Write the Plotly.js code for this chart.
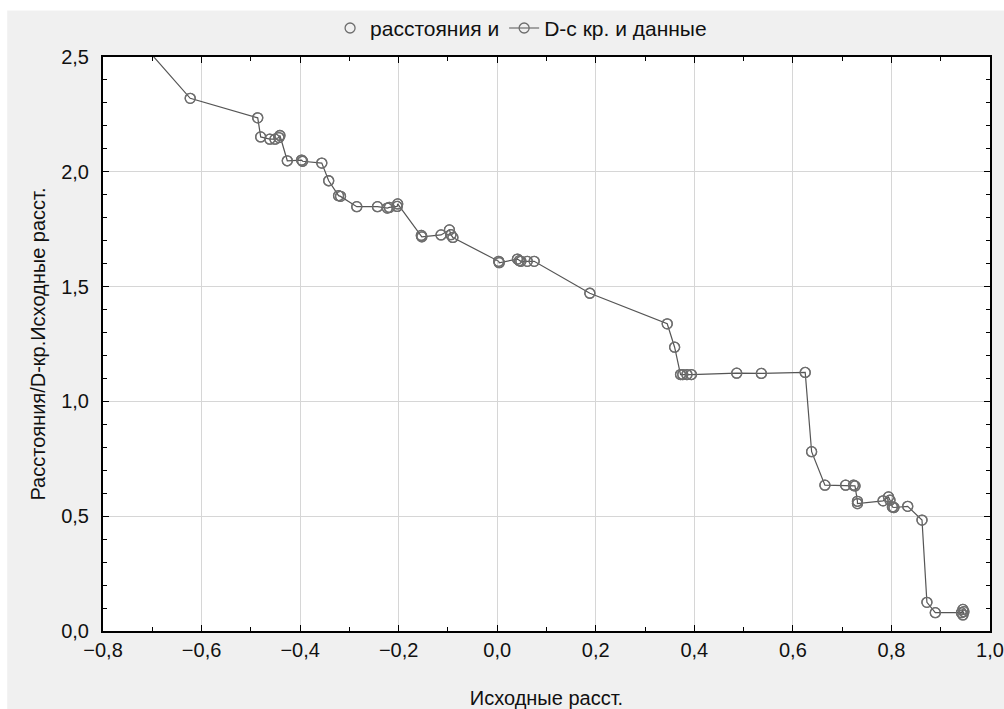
<!DOCTYPE html>
<html>
<head>
<meta charset="utf-8">
<script src="https://cdn.plot.ly/plotly-3.0.1.min.js"></script>
<style>
html,body{margin:0;padding:0;background:#f0f0f0;}
#chart{width:1004px;height:709px;}
</style>
</head>
<body>
<div id="chart"></div>
<script>
// Data
var xVals = [-0.75, -0.623, -0.486, -0.480, -0.4615, -0.451, -0.443, -0.441, -0.426, -0.397, -0.395, -0.356, -0.342, -0.322, -0.318,
  -0.285, -0.243, -0.223, -0.219, -0.203, -0.202, -0.154, -0.153, -0.114, -0.097, -0.094, -0.090,
  0.003, 0.004, 0.041, 0.045, 0.048, 0.061, 0.075, 0.188, 0.345, 0.360, 0.372, 0.3765, 0.385, 0.394,
  0.486, 0.536, 0.625, 0.638, 0.665, 0.707, 0.723, 0.726, 0.731, 0.731, 0.783, 0.794, 0.797, 0.802, 0.805,
  0.833, 0.862, 0.872, 0.889, 0.942, 0.945, 0.945, 0.947];
var yVals = [2.63, 2.320, 2.235, 2.152, 2.142, 2.142, 2.149, 2.158, 2.048, 2.051, 2.046, 2.038, 1.961, 1.896, 1.893,
  1.848, 1.848, 1.842, 1.845, 1.849, 1.860, 1.723, 1.717, 1.725, 1.747, 1.726, 1.714,
  1.610, 1.604, 1.620, 1.613, 1.610, 1.610, 1.610, 1.471, 1.338, 1.236, 1.117, 1.117, 1.117, 1.117,
  1.123, 1.122, 1.126, 0.781, 0.635, 0.635, 0.635, 0.632, 0.565, 0.555, 0.567, 0.584, 0.570, 0.540, 0.538,
  0.543, 0.483, 0.125, 0.080, 0.080, 0.094, 0.070, 0.084];
var seriesNames = ["расстояния и", "D-с кр. и данные"];
var xTitle = "Исходные расст.";
var yTitle = "Расстояния/D-кр.Исходные расст.";

var fontFam = "Liberation Sans, Arial, sans-serif";
var txtColor = "#111";

var traces = [
  {
    x: xVals, y: yVals, name: seriesNames[0], type: "scatter", mode: "markers",
    marker: {symbol: "circle-open", size: 10, color: "#6e6e6e", line: {width: 1.3, color: "#6e6e6e"}},
    cliponaxis: true
  },
  {
    x: xVals, y: yVals, name: seriesNames[1], type: "scatter", mode: "lines+markers",
    line: {color: "#555555", width: 1.2},
    marker: {symbol: "circle-open", size: 10, color: "#6e6e6e", line: {width: 1.3, color: "#6e6e6e"}},
    cliponaxis: true
  }
];

var axisCommon = {
  showline: true, linecolor: "#000", linewidth: 2, mirror: "ticks",
  ticks: "inside", ticklen: 6, tickcolor: "#000", tickwidth: 1,
  showgrid: true, gridcolor: "#d6d6d6", gridwidth: 1,
  zeroline: false, tickformat: ".1f",
  tickfont: {family: fontFam, size: 20, color: txtColor}
};

var layout = {
  width: 1004, height: 709,
  paper_bgcolor: "#f0f0f0", plot_bgcolor: "#ffffff",
  separators: ", ",
  margin: {l: 103, r: 14, t: 57, b: 78, autoexpand: false},
  font: {family: fontFam, size: 20, color: txtColor},
  showlegend: true,
  legend: {orientation: "h", x: 0.519, xanchor: "center", xref: "container",
    y: 0.96, yanchor: "middle", yref: "container",
    bgcolor: "rgba(0,0,0,0)", font: {family: fontFam, size: 21, color: txtColor}},
  xaxis: Object.assign({}, axisCommon, {
    range: [-0.8, 1.0], dtick: 0.2, tick0: -0.8,
    minor: {ticks: "inside", ticklen: 4, tickcolor: "#000", dtick: 0.1, showgrid: false},
    title: {text: xTitle, font: {family: fontFam, size: 20, color: txtColor}, standoff: 36}
  }),
  yaxis: Object.assign({}, axisCommon, {
    range: [0, 2.5], dtick: 0.5, tick0: 0,
    ticklabelstandoff: 8,
    minor: {ticks: "inside", ticklen: 4, tickcolor: "#000", dtick: 0.1, showgrid: false},
    title: {text: yTitle, font: {family: fontFam, size: 20, color: txtColor}, standoff: 10}
  }),
  shapes: [
    {type: "rect", xref: "paper", yref: "paper", x0: -0.2, x1: 1.1, y0: 1.081, y1: 1.2,
      fillcolor: "#ffffff", line: {width: 0}, layer: "below"},
    {type: "rect", xref: "paper", yref: "paper", x0: -0.2, x1: -0.108, y0: -0.2, y1: 1.2,
      fillcolor: "#ffffff", line: {width: 0}, layer: "below"}
  ]
};

Plotly.newPlot("chart", traces, layout, {displayModeBar: false, staticPlot: true});
</script>
</body>
</html>
